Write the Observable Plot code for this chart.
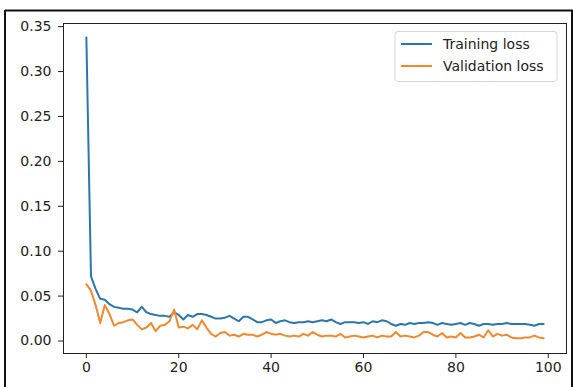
<!DOCTYPE html>
<html>
<head>
<meta charset="utf-8">
<script src="https://cdn.jsdelivr.net/npm/d3@7"></script>
<script src="https://cdn.jsdelivr.net/npm/@observablehq/plot@0.6"></script>
<style>
  html, body { margin: 0; padding: 0; background: #fff; }
  #chart { position: relative; width: 573px; height: 387px; overflow: hidden; }
</style>
</head>
<body>
<div id="chart"></div>
<script>
const seriesNames = ["Training loss", "Validation loss"];
const seriesColors = ["#2b77ad", "#f0892e"];
const yTicks = [0, 0.05, 0.10, 0.15, 0.20, 0.25, 0.30, 0.35];
const xTicks = [0, 20, 40, 60, 80, 100];

const trainingLoss = [
  0.338, 0.072, 0.058, 0.047, 0.046, 0.041, 0.038, 0.037, 0.036, 0.036,
  0.035, 0.032, 0.038, 0.032, 0.030, 0.029, 0.028, 0.028, 0.027, 0.032,
  0.029, 0.024, 0.029, 0.027, 0.030, 0.030, 0.029, 0.027, 0.025, 0.025,
  0.026, 0.028, 0.025, 0.022, 0.027, 0.027, 0.024, 0.021, 0.021, 0.023,
  0.024, 0.020, 0.022, 0.023, 0.021, 0.020, 0.021, 0.021, 0.022, 0.021,
  0.022, 0.023, 0.022, 0.024, 0.021, 0.019, 0.021, 0.021, 0.021, 0.020,
  0.021, 0.019, 0.022, 0.021, 0.023, 0.022, 0.019, 0.017, 0.019, 0.018,
  0.020, 0.019, 0.020, 0.020, 0.021, 0.020, 0.018, 0.020, 0.019, 0.018,
  0.019, 0.020, 0.018, 0.020, 0.019, 0.017, 0.019, 0.019, 0.018, 0.019,
  0.019, 0.020, 0.019, 0.019, 0.019, 0.019, 0.018, 0.017, 0.019, 0.019
];
const validationLoss = [
  0.063, 0.056, 0.040, 0.020, 0.040, 0.030, 0.017, 0.020, 0.021, 0.023,
  0.024, 0.018, 0.013, 0.015, 0.020, 0.011, 0.017, 0.018, 0.022, 0.035,
  0.015, 0.016, 0.014, 0.018, 0.013, 0.023, 0.015, 0.008, 0.005, 0.009,
  0.010, 0.006, 0.007, 0.005, 0.008, 0.007, 0.007, 0.005, 0.007, 0.010,
  0.008, 0.007, 0.008, 0.006, 0.005, 0.006, 0.005, 0.008, 0.006, 0.010,
  0.007, 0.005, 0.006, 0.006, 0.005, 0.008, 0.004, 0.005, 0.006, 0.005,
  0.004, 0.005, 0.006, 0.004, 0.006, 0.005, 0.005, 0.010, 0.005, 0.006,
  0.005, 0.004, 0.006, 0.010, 0.010, 0.007, 0.005, 0.009, 0.004, 0.005,
  0.004, 0.009, 0.004, 0.004, 0.005, 0.007, 0.004, 0.012, 0.005, 0.008,
  0.006, 0.007, 0.004, 0.003, 0.003, 0.004, 0.004, 0.006, 0.004, 0.003
];

const rows = [];
trainingLoss.forEach((v, i) => rows.push({epoch: i, loss: v, series: seriesNames[0]}));
validationLoss.forEach((v, i) => rows.push({epoch: i, loss: v, series: seriesNames[1]}));

const W = 573, H = 387;
const chart = Plot.plot({
  width: W,
  height: H,
  marginLeft: 63,
  marginRight: 7,
  marginTop: 23,
  marginBottom: 34,
  style: {fontFamily: "DejaVu Sans", fontSize: "14px", color: "#222", background: "#fff"},
  x: {domain: [-4.95, 103.95]},
  y: {domain: [-0.0139, 0.3535]},
  color: {domain: seriesNames, range: seriesColors},
  marks: [
    Plot.lineY(rows, {x: "epoch", y: "loss", stroke: "series", strokeWidth: 2}),
    Plot.frame({stroke: "#222", strokeWidth: 1}),
    Plot.axisY(yTicks, {tickSize: 5, tickPadding: 7, tickFormat: d3.format(".2f"), label: null, stroke: "#222"}),
    Plot.axisX(xTicks, {tickSize: 5, tickPadding: 4, label: null, stroke: "#222"})
  ]
});
document.getElementById("chart").appendChild(chart);

// Legend (matplotlib-like, upper right) and outer image frame
const svg = d3.select(chart);
const lg = svg.append("g").attr("font-family", "DejaVu Sans").attr("font-size", 14)
  .attr("text-anchor", "start");
lg.append("rect").attr("x", 395).attr("y", 31.5).attr("width", 162).attr("height", 50)
  .attr("rx", 3).attr("fill", "#fff").attr("fill-opacity", 0.85)
  .attr("stroke", "#d6d6d6").attr("stroke-width", 1);
seriesNames.forEach((name, i) => {
  const cy = 44 + i * 22;
  lg.append("line").attr("x1", 401).attr("x2", 432).attr("y1", cy).attr("y2", cy)
    .attr("stroke", seriesColors[i]).attr("stroke-width", 2);
  lg.append("text").attr("x", 443).attr("y", cy).attr("dy", "0.35em")
    .attr("text-anchor", "start").attr("fill", "#222").text(name);
});
const fr = svg.append("g").attr("stroke", "#111").attr("stroke-width", 2).attr("fill", "none");
fr.append("line").attr("x1", 5).attr("x2", W).attr("y1", 10.5).attr("y2", 10.5);
fr.append("line").attr("x1", 5).attr("x2", 5).attr("y1", 10).attr("y2", H);
fr.append("line").attr("x1", 572).attr("x2", 572).attr("y1", 10).attr("y2", H);
</script>
</body>
</html>
